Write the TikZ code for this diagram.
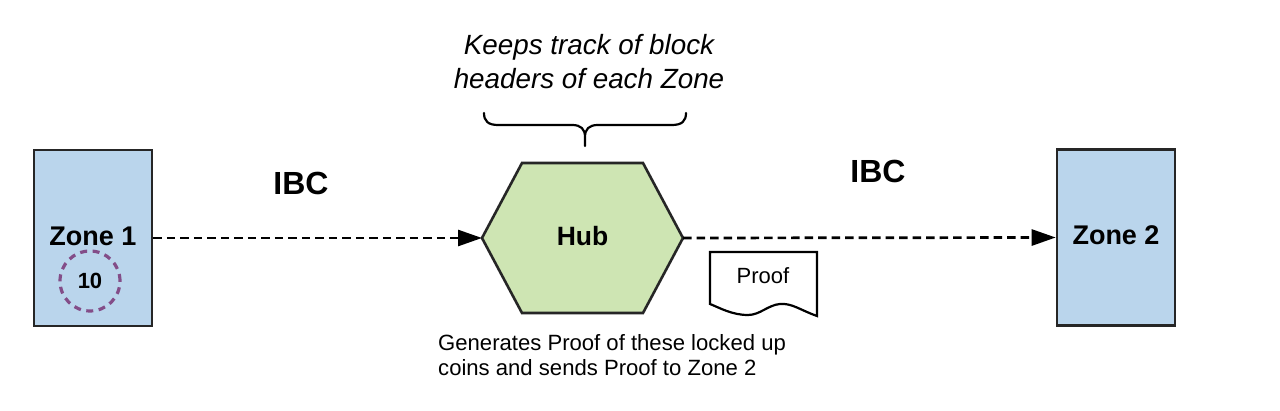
\documentclass[tikz,border=0pt]{standalone}
\usepackage{fontspec}
\setmainfont{Liberation Sans}
\usetikzlibrary{arrows.meta}
\definecolor{zoneblue}{HTML}{BAD5EC}
\definecolor{hubgreen}{HTML}{CEE5B3}
\definecolor{coinpurple}{HTML}{834D88}
\begin{document}
\begin{tikzpicture}[x=1pt,y=-1pt,
  zonebox/.style={draw=black!85, line width=2.6pt, fill=zoneblue, minimum width=118pt, minimum height=176pt, inner sep=0pt, font=\fontsize{27}{30}\selectfont\bfseries},
  coin/.style={circle, draw=coinpurple, line width=3.2pt, dash pattern=on 7pt off 5.5pt, minimum size=60pt, inner sep=0pt, font=\fontsize{22}{24}\selectfont\bfseries},
  hubshape/.style={draw=black!85, line width=2.6pt, fill=hubgreen, line join=miter},
  hubtext/.style={font=\fontsize{26.5}{30}\selectfont\bfseries, inner sep=0pt},
  ibclabel/.style={font=\fontsize{32}{36}\selectfont\bfseries, inner sep=0pt},
  ibcarrow/.style={line width=2.7pt, dash pattern=on 8.5pt off 5pt, -{Triangle[length=24pt,width=16pt]}},
  note/.style={font=\fontsize{27.8}{34}\selectfont\itshape, align=center, inner sep=0pt},
  caption/.style={font=\fontsize{22.1}{25}\selectfont, align=left, inner sep=0pt},
  docshape/.style={draw=black, line width=2.2pt, fill=white},
  doctext/.style={font=\fontsize{22}{26}\selectfont, inner sep=0pt},
  bracestyle/.style={draw=black, line width=2.2pt, line cap=round}
]
\useasboundingbox (0,0) rectangle (1280,411);

% Zones
\node[zonebox] (z1) at (93,238) {\raisebox{4pt}{Zone 1}};
\node[zonebox] (z2) at (1116,237.5) {\raisebox{4pt}{Zone 2}};
\node[coin] (coin) at (90,281) {10};

% Hub hexagon
\draw[hubshape] (482,238) -- (522,163) -- (643,163) -- (683,238) -- (643,313) -- (522,313) -- cycle;
\coordinate (hubW) at (482,238);
\coordinate (hubE) at (683,238);
\node[hubtext] (hub) at (582.5,236) {Hub};

% IBC connectors
\draw[ibcarrow] (z1.east) -- (hubW);
\draw[ibcarrow] (hubE) -- (z2.west);
\node[ibclabel] (ibc1) at (301,183) {IBC};
\node[ibclabel] (ibc2) at (878,171) {IBC};

% Brace and note
\draw[bracestyle] (484,113) .. controls (484,121) and (488,125) .. (498,125)
  -- (572,125) .. controls (581,125) and (585,129) .. (585,137) -- (585,146)
  (585,137) .. controls (585,129) and (589,125) .. (598,125)
  -- (672,125) .. controls (682,125) and (686,121) .. (686,113);
\node[note] (keeps) at (589,62) {Keeps track of block\\headers of each Zone};

% Proof document
\draw[docshape] (710,252) -- (817,252) -- (817,316)
  .. controls (800,310) and (792,303) .. (780,304)
  .. controls (768,305) and (760,315) .. (748,315)
  .. controls (732,315) and (720,308) .. (710,304) -- cycle;
\node[doctext] (proof) at (763,276) {Proof};

% Caption
\node[caption, anchor=west] (gen) at (438,355) {Generates Proof of these locked up\\coins and sends Proof to Zone 2};
\end{tikzpicture}
\end{document}
